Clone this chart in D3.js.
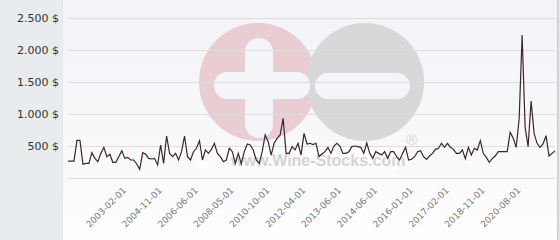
<!DOCTYPE html>
<html>
<head>
<meta charset="utf-8">
<script src="https://cdn.jsdelivr.net/npm/d3@7"></script>
<style>
  html, body { margin: 0; padding: 0; background: #e8ecef; }
  #viz_container { width: 560px; height: 240px; }
</style>
</head>
<body>
<div id="viz_container"></div>
<script>
// monthly-ish prices (USD)
const prices = [
  265, 265, 265, 589, 589, 214, 229, 229, 396, 307, 255, 385, 479, 333, 370, 245,
  245, 333, 427, 307, 323, 281, 281, 219, 135, 396, 370, 307, 297, 307, 203, 516,
  229, 656, 385, 333, 385, 281, 411, 656, 333, 281, 411, 464, 583, 281, 438, 385,
  448, 542, 385, 333, 255, 281, 464, 411, 229, 385, 219, 411, 531, 516, 438, 281,
  229, 411, 672, 568, 359, 542, 620, 672, 932, 385, 385, 490, 438, 542, 359, 698,
  531, 542, 521, 542, 333, 375, 411, 479, 385, 500, 542, 500, 385, 385, 411, 490,
  500, 490,
  479, 385, 547, 385, 307, 411, 385, 359, 411, 307, 411, 411, 333, 281, 385, 479,
  281, 292, 333, 411, 427, 333, 292, 344, 385, 448, 464, 542, 479, 542, 479, 448,
  385,
  385, 437, 302, 479, 359, 464, 437, 583, 385, 323, 245, 302, 344, 411, 411, 411,
  411, 714, 625, 479, 922, 2234, 792, 490, 1203, 698, 542, 479, 531, 661, 344, 385,
  422
];

const tickLabels = [
  "2003-02-01", "2004-11-01", "2006-06-01", "2008-05-01", "2010-10-01", "2012-04-01",
  "2013-06-01", "2014-06-01", "2016-01-01", "2017-02-01", "2018-11-01", "2020-08-01"
];
const tickIndex = [19, 31, 43, 55, 67, 79, 91, 103, 115, 127, 139, 151];
const yTicks = [0, 500, 1000, 1500, 2000, 2500];

const width = 560;
const height = 240;

const svg = d3
  .select("#viz_container")
  .append("svg")
  .attr("width", width)
  .attr("height", height)
  .attr("viewBox", `0 0 ${width} ${height}`);

const defs = svg.append("defs");
const bg = defs.append("linearGradient").attr("id", "bg").attr("x1", 0).attr("y1", 0).attr("x2", 0).attr("y2", 1);
bg.append("stop").attr("offset", "0%").attr("stop-color", "#f2f3f7");
bg.append("stop").attr("offset", "75%").attr("stop-color", "#fafafc");
bg.append("stop").attr("offset", "100%").attr("stop-color", "#ffffff");

const shadow = defs.append("filter").attr("id", "shadow").attr("x", -0.1).attr("y", -0.1).attr("width", 1.2).attr("height", 1.2);
shadow.append("feDropShadow").attr("dx", 1).attr("dy", 0).attr("stdDeviation", 1.2).attr("flood-color", "#999").attr("flood-opacity", 0.6);

// panel behind the chart
svg.append("rect")
  .attr("x", 63).attr("y", -5).attr("width", 494).attr("height", 250)
  .attr("fill", "url(#bg)")
  .attr("filter", "url(#shadow)");

const x = d3.scaleLinear().domain([0, prices.length - 1]).range([68, 555]);
const y = d3.scaleLinear().domain([0, 2500]).range([178, 18]);

// watermark
const wm = svg.append("g");
wm.append("circle").attr("cx", 258).attr("cy", 82).attr("r", 59).attr("fill", "#eaccd3");
wm.append("circle").attr("cx", 365).attr("cy", 82).attr("r", 59).attr("fill", "#d8d8da");
wm.append("rect").attr("x", 245).attr("y", 38).attr("width", 28).attr("height", 100).attr("rx", 14).attr("fill", "#f4f5f8");
wm.append("rect").attr("x", 214).attr("y", 72).attr("width", 96).attr("height", 27).attr("rx", 13).attr("fill", "#f4f5f8");
wm.append("rect").attr("x", 315).attr("y", 73).attr("width", 95).attr("height", 26).attr("rx", 13).attr("fill", "#f4f5f8");
wm.append("rect").attr("x", 197).attr("y", 146).attr("width", 200).attr("height", 24).attr("fill", "#ffffff").attr("opacity", 0.5);
wm.append("text")
  .attr("x", 231).attr("y", 166)
  .attr("font-family", "Liberation Sans, Arial, sans-serif")
  .attr("font-weight", "bold")
  .attr("font-size", 16)
  .attr("fill", "#d3d3d6")
  .text("www.Wine-Stocks.com");
wm.append("text")
  .attr("x", 406).attr("y", 145)
  .attr("font-family", "Liberation Sans, Arial, sans-serif")
  .attr("font-size", 15)
  .attr("fill", "#d3d3d6")
  .text("®");

// grid lines
svg.append("g")
  .selectAll("line")
  .data(yTicks)
  .enter()
  .append("line")
  .attr("x1", 68).attr("x2", 555)
  .attr("y1", (d) => y(d) + 0.5).attr("y2", (d) => y(d) + 0.5)
  .attr("stroke", "#dddddd")
  .attr("stroke-width", 1);

// y labels
const fmt = (v) => d3.format(",")(v).replace(/,/g, ".") + " $";
svg.append("g")
  .selectAll("text")
  .data(yTicks.filter((d) => d > 0))
  .enter()
  .append("text")
  .attr("x", 59)
  .attr("y", (d) => y(d) + 4)
  .attr("text-anchor", "end")
  .attr("font-family", "DejaVu Sans, sans-serif")
  .attr("font-size", 11)
  .attr("fill", "#333333")
  .text(fmt);

// x labels
svg.append("g")
  .selectAll("text")
  .data(tickIndex)
  .enter()
  .append("text")
  .attr("transform", (d) => `translate(${x(d) + 2},${191}) rotate(-45)`)
  .attr("text-anchor", "end")
  .attr("font-family", "DejaVu Sans, sans-serif")
  .attr("font-size", 9)
  .attr("fill", "#7a7a7a")
  .text((d, i) => tickLabels[i]);

// price line
const lineGen = d3.line().x((d, i) => x(i)).y((d) => y(d));
svg.append("path")
  .datum(prices)
  .attr("fill", "none")
  .attr("stroke", "#3b262e")
  .attr("stroke-width", 1.2)
  .attr("stroke-linejoin", "miter")
  .attr("d", lineGen);
</script>
</body>
</html>
